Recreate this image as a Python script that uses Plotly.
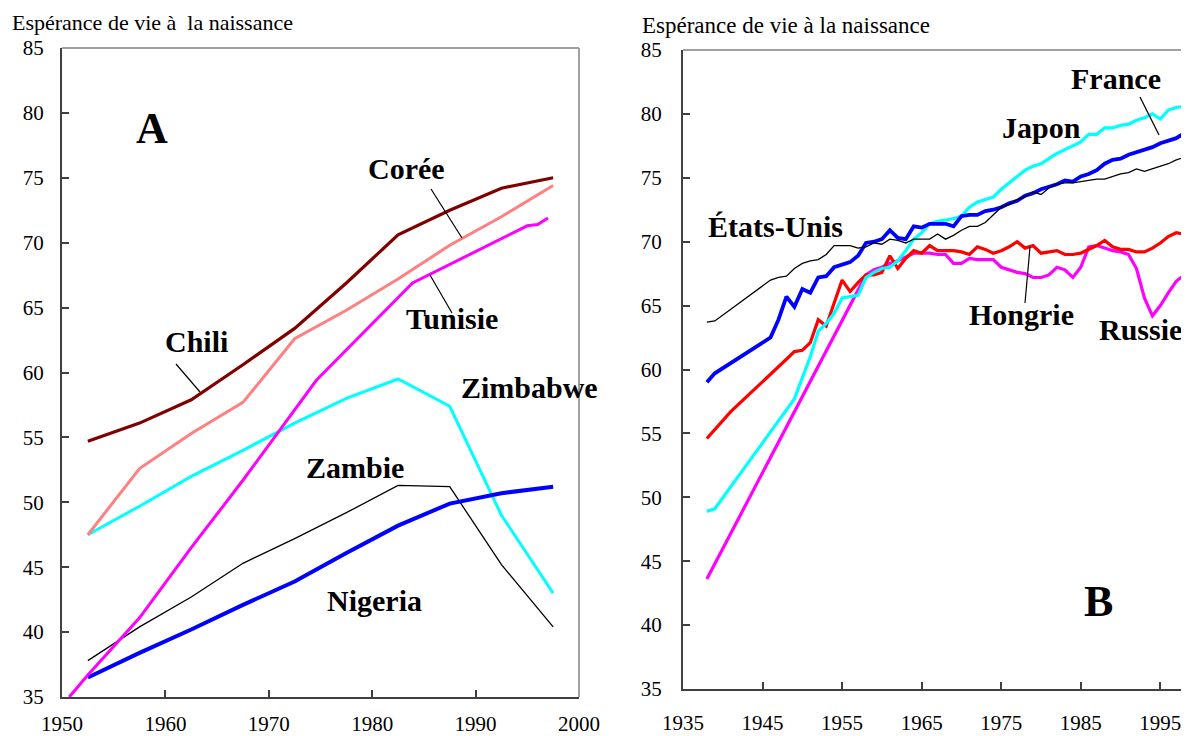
import plotly.graph_objects as go

# ── Panel A : 5-year periods (mid-points) ─────────────────────────────────────
A_YEARS = [1952.5, 1957.5, 1962.5, 1967.5, 1972.5, 1977.5, 1982.5, 1987.5, 1992.5, 1997.5]
chili = [54.7, 56.1, 57.9, 60.6, 63.4, 66.9, 70.6, 72.5, 74.2, 75.0]
coree = [47.5, 52.6, 55.3, 57.7, 62.6, 64.8, 67.2, 69.8, 72.0, 74.4]
zimbabwe = [47.5, 49.7, 52.0, 54.0, 56.1, 58.0, 59.5, 57.4, 49.0, 43.0]
zambie = [37.8, 40.4, 42.7, 45.3, 47.2, 49.2, 51.3, 51.2, 45.2, 40.4]
nigeria = [36.5, 38.4, 40.2, 42.1, 43.9, 46.1, 48.2, 49.9, 50.7, 51.2]
tunisie_years = [1950.7, 1952.5, 1957.5, 1962.5, 1967.5, 1974.6, 1983.9, 1995.0, 1996.0, 1997.0]
tunisie = [35.0, 36.7, 41.1, 46.5, 51.7, 59.4, 66.9, 71.3, 71.4, 71.9]

# ── Panel B : annual series (straight segments where years are missing) ──────
POST = list(range(1946, 2000))
us_years = [1938, 1939] + POST
us = [63.7, 63.8,
      67.0, 67.2, 67.3, 67.9, 68.3, 68.5, 68.6, 69.0, 69.7, 69.7,
      69.7, 69.5, 69.6, 69.9, 69.8, 70.2, 70.1, 69.9, 70.2, 70.2,
      70.2, 70.6, 70.2, 70.5, 70.9, 71.2, 71.2, 71.5, 72.1, 72.7,
      72.9, 73.3, 73.5, 73.9, 73.7, 74.2, 74.5, 74.6, 74.6, 74.7,
      74.8, 74.9, 74.9, 75.1, 75.3, 75.4, 75.7, 75.5, 75.7, 75.9,
      76.1, 76.4, 76.6, 76.8]
france_years = [1938, 1939] + POST
france = [59.0, 59.7,
          62.5, 63.9, 65.7, 64.9, 66.3, 66.0, 67.2, 67.3, 68.0, 68.2,
          68.4, 68.9, 69.9, 70.0, 70.2, 70.9, 70.3, 70.2, 71.2, 71.1,
          71.4, 71.4, 71.4, 71.2, 72.0, 72.1, 72.1, 72.4, 72.5, 72.7,
          73.0, 73.2, 73.6, 73.8, 74.1, 74.3, 74.5, 74.8, 74.7, 75.1,
          75.3, 75.6, 76.1, 76.4, 76.5, 76.8, 77.0, 77.2, 77.4, 77.7,
          77.9, 78.1, 78.5, 78.4]
japon_years = [1938, 1939] + list(range(1949, 2000))
japon = [48.9, 49.1,
         57.7, 59.3, 61.0, 63.0, 63.6, 64.4, 65.6, 65.7, 65.8, 67.2,
         67.6, 67.9, 68.0, 68.5, 69.3, 70.2, 70.7, 71.4, 71.6, 71.7,
         71.8, 72.0, 72.7, 73.1, 73.3, 73.5, 74.1, 74.6, 75.1, 75.6,
         75.9, 76.1, 76.5, 76.9, 77.2, 77.5, 77.8, 78.4, 78.4, 78.9,
         78.9, 79.1, 79.2, 79.5, 79.7, 80.0, 79.6, 80.3, 80.5, 80.6,
         80.7]
hongrie_years = [1938, 1941] + list(range(1948, 2000))
hongrie = [54.6, 56.7,
           60.8, 61.4, 61.5, 62.1, 63.9, 63.4, 65.2, 67.0, 66.1, 66.8,
           67.4, 67.4, 67.6, 68.9, 67.9, 68.7, 69.3, 69.1, 69.7, 69.3,
           69.3, 69.3, 69.2, 69.0, 69.6, 69.4, 69.1, 69.3, 69.6, 70.0,
           69.5, 69.7, 69.1, 69.2, 69.3, 69.0, 69.0, 69.1, 69.4, 69.7,
           70.1, 69.6, 69.4, 69.4, 69.2, 69.2, 69.5, 69.9, 70.4, 70.7,
           70.6, 70.8]
russie_years = [1938] + list(range(1958, 2000))
russie = [43.6,
          67.4, 67.8, 68.0, 68.3, 68.5, 68.8, 69.1, 69.1, 69.1, 69.0,
          69.0, 68.3, 68.3, 68.7, 68.6, 68.6, 68.6, 68.0, 67.8, 67.6,
          67.5, 67.2, 67.2, 67.4, 68.0, 67.8, 67.2, 68.0, 69.6, 69.7,
          69.5, 69.3, 69.2, 69.0, 67.9, 65.6, 64.2, 65.0, 66.0, 66.9,
          67.4, 66.0]

A_TICKS = [1950, 1960, 1970, 1980, 1990, 2000]
B_TICKS = [1935, 1945, 1955, 1965, 1975, 1985, 1995]
Y_TICKS = list(range(35, 90, 5))

FONT = "Liberation Serif, Times New Roman, serif"
W, H = 1189, 736
OFF = 8            # page body margin: the figure starts 8 px in
FW, FH = W - OFF, H - OFF

fig = go.Figure()

def line(x, y, color, width, xa, ya, name):
    fig.add_trace(go.Scatter(x=x, y=y, mode="lines", name=name,
                             line=dict(color=color, width=width),
                             xaxis=xa, yaxis=ya, showlegend=False,
                             hoverinfo="skip"))

line(A_YEARS, zimbabwe, "#00FFFF", 3, "x", "y", "Zimbabwe")
line(A_YEARS, zambie, "#000000", 1.3, "x", "y", "Zambie")
line(A_YEARS, nigeria, "#0000FF", 4, "x", "y", "Nigeria")
line(tunisie_years, tunisie, "#FF00FF", 3, "x", "y", "Tunisie")
line(A_YEARS, coree, "#FF8080", 3, "x", "y", "Corée")
line(A_YEARS, chili, "#800000", 3.2, "x", "y", "Chili")

line(russie_years, russie, "#FF00FF", 3.2, "x2", "y2", "Russie")
line(hongrie_years, hongrie, "#FF0000", 3.2, "x2", "y2", "Hongrie")
line(japon_years, japon, "#00FFFF", 3.2, "x2", "y2", "Japon")
line(france_years, france, "#0000FF", 3.8, "x2", "y2", "France")
line(us_years, us, "#000000", 1.3, "x2", "y2", "États-Unis")

axis_common = dict(showgrid=False, zeroline=False, showline=True,
                   linecolor="#404040", linewidth=2, ticks="inside",
                   ticklen=7, tickwidth=1.5, tickcolor="#404040",
                   automargin=False,
                   tickfont=dict(family=FONT, size=21, color="black"))

def px(x):
    return (x - OFF) / FW

def py(y):
    return 1 - (y - OFF) / FH

fig.update_layout(
    template="none",
    width=FW, height=FH,
    margin=dict(l=0, r=0, t=0, b=0, pad=0, autoexpand=False),
    paper_bgcolor="white", plot_bgcolor="white", showlegend=False,
    xaxis=dict(domain=[px(62), px(579)], range=[1950, 2000], tickvals=A_TICKS,
               anchor="y", ticklabelstandoff=7, **axis_common),
    yaxis=dict(domain=[py(697), py(48)], range=[35, 85], tickvals=Y_TICKS,
               anchor="x", ticklabelstandoff=12, **axis_common),
    xaxis2=dict(domain=[px(683), 1.0], range=[1935, 1998.6], tickvals=B_TICKS,
                anchor="y2", ticklabelstandoff=14, **axis_common),
    yaxis2=dict(domain=[py(689), py(50)], range=[35, 85], tickvals=Y_TICKS,
                anchor="x2", ticklabelstandoff=15, **axis_common),
)

# light grey frame on top/right of the plot areas
frame = dict(color="#A0A0A0", width=2)
fig.add_shape(type="line", xref="paper", yref="paper", x0=px(62), x1=px(579),
              y0=py(48), y1=py(48), line=frame)
fig.add_shape(type="line", xref="paper", yref="paper", x0=px(579), x1=px(579),
              y0=py(48), y1=py(697), line=frame)
fig.add_shape(type="line", xref="paper", yref="paper", x0=px(683), x1=1.0,
              y0=py(50), y1=py(50), line=frame)

# leader lines from labels to curves
for (x0, y0, x1, y1) in [(431, 189, 462, 238),    # Corée
                         (430, 275, 452, 313),    # Tunisie
                         (176, 364, 200, 392),    # Chili
                         (1140, 97, 1159, 135),   # France
                         (1025, 303, 1030, 247)]: # Hongrie
    fig.add_shape(type="line", xref="paper", yref="paper",
                  x0=px(x0), y0=py(y0), x1=px(x1), y1=py(y1),
                  line=dict(color="black", width=1.2))

def label(text, x, y, size=30, anchor="center"):
    fig.add_annotation(text=text, x=px(x), y=py(y), xref="paper", yref="paper",
                       xanchor=anchor, yanchor="middle", showarrow=False,
                       font=dict(family=FONT, size=size, color="black"))

label("<b>A</b>", 152, 129, size=44)
label("<b>Corée</b>", 406, 168)
label("<b>Tunisie</b>", 452, 318)
label("<b>Chili</b>", 196, 342)
label("<b>Zimbabwe</b>", 529, 387)
label("<b>Zambie</b>", 355, 467)
label("<b>Nigeria</b>", 374, 600)

label("<b>B</b>", 1098, 601, size=44)
label("<b>France</b>", 1116, 78)
label("<b>Japon</b>", 1041, 128)
label("<b>États-Unis</b>", 775, 226)
label("<b>Hongrie</b>", 1021, 314)
label("<b>Russie</b>", 1140, 329)

label("Espérance de vie à\u00a0 la naissance", 10, 22, size=22, anchor="left")
label("Espérance de vie à la naissance", 640, 25, size=23, anchor="left")

fig.write_html("out.html")
